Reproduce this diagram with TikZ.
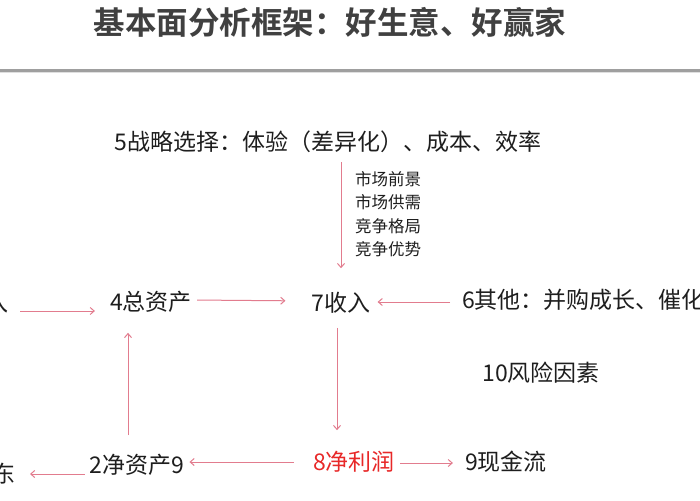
\documentclass[tikz,border=0pt]{standalone}
\usepackage{fontspec}
\usepackage{tikz}
\usetikzlibrary{arrows.meta}
\newfontfamily\cjk{Noto Sans CJK SC}
\newfontfamily\cjkbold{Noto Sans CJK SC Bold}
\definecolor{arrowpink}{RGB}{226,124,142}
\definecolor{titlegray}{RGB}{64,64,64}
\definecolor{textdark}{RGB}{30,30,30}
\definecolor{profitred}{RGB}{232,40,40}
\tikzset{
  item/.style={font=\cjk\fontsize{23}{27}\selectfont, text=textdark, inner sep=0pt},
  small/.style={font=\cjk\fontsize{16.5}{23.5}\selectfont, text=textdark, inner sep=0pt, align=left},
  flow/.style={draw=arrowpink, line width=1pt, -{Straight Barb[length=4pt,width=7pt]}}
}

\begin{document}
\begin{tikzpicture}[x=1pt,y=-1pt]
\useasboundingbox (0,0) rectangle (700,500);
\clip (0,0) rectangle (700,500);
\fill[white] (0,0) rectangle (700,500);

% title and rule
\node [font=\cjkbold\fontsize{31.5}{36}\selectfont, text=titlegray, inner sep=0pt] (title) at (330,22) {基本面分析框架：好生意、好赢家};
\fill [gray!75] (0,69.5) rectangle (700,72);
\fill [gray!25] (0,72) rectangle (700,73.5);

% nodes
\node [item] (strategy) at (328,142) {5战略选择：体验（差异化）、成本、效率};
\node [small, anchor=north west] (market) at (355,171) {市场前景\\市场供需\\竞争格局\\竞争优势};
\node [item, anchor=east] (income) at (9,303) {入};
\node [item] (assets) at (151,302) {4总资产};
\node [item] (revenue) at (341,303) {7收入};
\node [item, anchor=west] (other) at (462,300) {6其他：并购成长、催化};
\node [item] (risk) at (541,373) {10风险因素};
\node [item, text=profitred] (profit) at (354,462) {8净利润};
\node [item] (cash) at (506,462) {9现金流};
\node [item] (equity) at (137,465) {2净资产9};
\node [item, anchor=east] (holder) at (16,474) {东};

% connectors
\draw [flow, shorten <=9pt, shorten >=24pt] (strategy.south -| revenue) -- (revenue.north);
\draw [flow, shorten <=11pt, shorten >=15pt] ([yshift=-8pt]income.east) -- ([yshift=-9pt]assets.west);
\draw [flow, shorten <=5pt, shorten >=26pt] ([yshift=2pt]assets.east) -- ([yshift=2pt]revenue.west);
\draw [flow, shorten <=12pt, shorten >=7pt] ([yshift=-2pt]other.west) -- ([yshift=1pt]revenue.east);
\draw [flow, shorten <=14pt, shorten >=21pt] ([xshift=-4pt]revenue.south) -- ([xshift=-17pt]profit.north);
\draw [flow, shorten <=5pt, shorten >=12pt] ([yshift=-1pt]profit.east) -- ([yshift=-1pt]cash.west);
\draw [flow, shorten <=19pt, shorten >=5pt] (profit.west) -- ([yshift=3pt]equity.east);
\draw [flow, shorten <=19pt, shorten >=20pt] ([xshift=-9pt]equity.north) -- ([xshift=-23pt]assets.south);
\draw [flow, shorten <=5pt, shorten >=14pt] ([yshift=-9pt]equity.west) -- (holder.east);
\end{tikzpicture}
\end{document}
